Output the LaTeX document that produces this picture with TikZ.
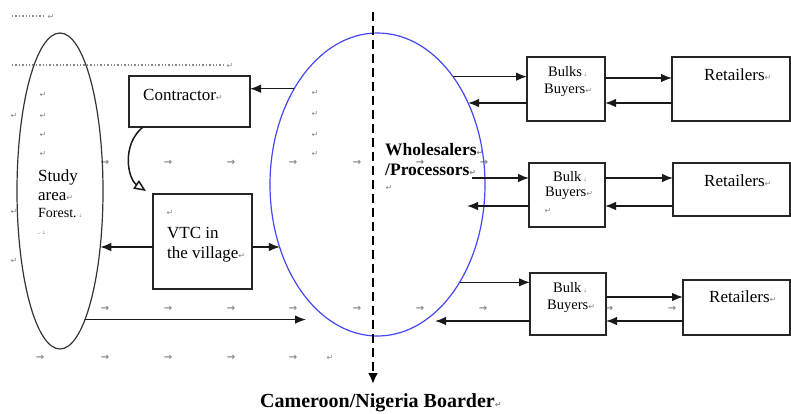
\documentclass[tikz,border=0pt]{standalone}
\usepackage{fontspec}
\setmainfont{Liberation Serif}
\newfontfamily\markfont{DejaVu Sans}
\usetikzlibrary{shapes.geometric,arrows.meta}
\definecolor{markgray}{RGB}{135,135,135}
\definecolor{ellblue}{RGB}{70,70,245}
\newcommand{\rt}{{\markfont\fontsize{8}{8}\selectfont\color{markgray}↵}}
\newcommand{\lb}{{\markfont\fontsize{5}{5}\selectfont\color{markgray}·↓}}
\tikzset{
  boxnode/.style={draw=black!85, line width=1.2pt, fill=white, rectangle, inner sep=0pt, outer sep=0pt},
  ellnode/.style={ellipse, inner sep=0pt, outer sep=0pt, line width=1.2pt},
  arr/.style={-{Latex[length=11pt,width=8.5pt]}, line width=1.3pt, black!90},
  curvarr/.style={-{Triangle[open,length=12pt,width=10pt]}, line width=1.5pt, black!90},
  lbl/.style={inner sep=0pt, anchor=west, font=\fontsize{17}{17}\selectfont},
  smalllbl/.style={inner sep=0pt, anchor=west, font=\fontsize{14.5}{14.5}\selectfont},
  boldlbl/.style={inner sep=0pt, anchor=west, font=\bfseries\fontsize{17.5}{17.5}\selectfont},
  mk/.style={inner sep=0pt, text=markgray, font=\markfont\fontsize{8}{8}\selectfont},
  tabmk/.style={inner sep=0pt, text=markgray, font=\markfont\bfseries\fontsize{10}{10}\selectfont},
  dotl/.style={markgray, line width=1.4pt, dash pattern=on 1.4pt off 2pt}
}
\begin{document}
\begin{tikzpicture}[x=1pt,y=-1pt]
\useasboundingbox (0,0) rectangle (791,413);

% ---- formatting marks (background) ----
\coordinate (d1a) at (12,16); \coordinate (d1b) at (45,16);
\coordinate (d2a) at (12,65); \coordinate (d2b) at (225,65);
\draw[dotl] (d1a) -- (d1b);
\draw[dotl] (d2a) -- (d2b);
\node[mk] (m1) at (51,17) {↵};
\node[mk] (m2) at (230,66) {↵};
\foreach \y [count=\i] in {95,116,135,154} \node[mk] (colA\i) at (43,\y) {↵};
\foreach \y [count=\i] in {116,212,261} \node[mk] (colB\i) at (14,\y) {↵};
\foreach \y [count=\i] in {93,114,135,154} \node[mk] (colC\i) at (315,\y) {↵};
\foreach \x [count=\i] in {105,168,231,293,357,420,484} \node[tabmk] (tabA\i) at (\x,163) {→};
\foreach \x [count=\i] in {105,168,231,293,357,420,483,609,672} \node[tabmk] (tabB\i) at (\x,309) {→};
\foreach \x [count=\i] in {40,105,168,231,293} \node[tabmk] (tabC\i) at (\x,358) {→};
\node[mk] (tabCend) at (330,358) {↵};

% ---- ellipses ----
\node[ellnode, draw=black!80, minimum width=86pt, minimum height=316pt] (study) at (60,191) {};
\node[ellnode, draw=ellblue, minimum width=215pt, minimum height=303pt] (whol) at (377.5,184.5) {};

% ---- boxes ----
\node[boxnode, minimum width=121pt, minimum height=51pt] (contractor) at (189.5,101.5) {};
\node[boxnode, minimum width=99pt, minimum height=95pt] (vtc) at (202.5,241.5) {};
\node[boxnode, minimum width=78pt, minimum height=64pt] (bb1) at (566,89) {};
\node[boxnode, minimum width=118pt, minimum height=64pt] (rt1) at (731,89) {};
\node[boxnode, minimum width=76pt, minimum height=64pt] (bb2) at (567,195) {};
\node[boxnode, minimum width=117pt, minimum height=53pt] (rt2) at (731.5,189.5) {};
\node[boxnode, minimum width=76pt, minimum height=62pt] (bb3) at (568,304) {};
\node[boxnode, minimum width=107pt, minimum height=55pt] (rt3) at (736.5,307.5) {};

% ---- texts ----
\node[lbl] (studytxt) at (38,177) {Study};
\node[lbl] (areatxt) at (38,197) {area\rt};
\node[inner sep=0pt, anchor=west, font=\fontsize{14}{14}\selectfont] (foresttxt) at (38,213) {Forest.\lb};
\node[mk] (forestmk) at (42,233) {.\lb};
\node[lbl] (contxt) at (143,95) {Contractor\rt};
\node[mk] (vtcmk) at (170,213) {↵};
\node[lbl] (vtctxt1) at (167,233) {VTC in};
\node[lbl] (vtctxt2) at (167,254) {the village\rt};
\node[boldlbl] (whtxt1) at (385,150) {Wholesalers\rt};
\node[boldlbl] (whtxt2) at (385,170) {/Processors\rt};
\node[mk] (whmk) at (389,188) {↵};
\node[smalllbl] (bb1t1) at (548,72) {Bulks\lb};
\node[smalllbl] (bb1t2) at (544,90) {Buyers\rt};
\node[lbl] (rt1t) at (704,75) {Retailers\rt};
\node[smalllbl] (bb2t1) at (553,177) {Bulk\lb};
\node[smalllbl] (bb2t2) at (545,193) {Buyers\rt};
\node[mk] (bb2mk) at (548,211) {↵};
\node[lbl] (rt2t) at (704,181) {Retailers\rt};
\node[smalllbl] (bb3t1) at (553,288) {Bulk\lb};
\node[smalllbl] (bb3t2) at (547,306) {Buyers\rt};
\node[lbl] (rt3t) at (709,297) {Retailers\rt};
\node[inner sep=0pt, anchor=west, font=\bfseries\fontsize{20}{20}\selectfont] (border) at (260,403) {Cameroon/Nigeria Boarder\rt};

% ---- connectors ----
\draw[arr] (whol.131.2) -- (whol.131.2 -| contractor.east);
\draw[curvarr] ([xshift=14pt]contractor.south west) .. controls +(-22,18) and +(-18,-12) .. ([xshift=-7pt,yshift=3pt]vtc.north west);
\draw[arr] ([yshift=-5.5pt]vtc.west) -- ([yshift=-5.5pt]vtc.west -| study.-54.3);
\draw[arr] ([yshift=-5.5pt]vtc.east) -- ([yshift=-5.5pt]vtc.east -| whol.-147.4);
\coordinate (bottomend) at (306,321);
\draw[arr] (study.-79.4) -- (study.-79.4 -| bottomend);

% row 1
\draw[arr] (whol.55.8) -- (whol.55.8 -| bb1.west);
\draw[arr] ([yshift=-14pt]bb1.west) -- ([yshift=-14pt]bb1.west -| whol.42);
\draw[arr] ([yshift=11pt]bb1.east) -- ([yshift=11pt]bb1.east -| rt1.west);
\draw[arr] ([yshift=-14pt]rt1.west) -- ([yshift=-14pt]rt1.west -| bb1.east);
% row 2
\coordinate (w2out) at (472,178);
\coordinate (w2in) at (467,206);
\draw[arr] (w2out) -- (w2out -| bb2.west);
\draw[arr] (bb2.west |- w2in) -- (w2in);
\draw[arr] (bb2.east |- w2out) -- (rt2.west |- w2out);
\draw[arr] (rt2.west |- w2in) -- (bb2.east |- w2in);
% row 3
\coordinate (w3in) at (435,321);
\draw[arr] (whol.-50.9) -- (whol.-50.9 -| bb3.west);
\draw[arr] (bb3.west |- w3in) -- (w3in);
\draw[arr] ([yshift=7pt]bb3.east) -- ([yshift=7pt]bb3.east -| rt3.west);
\draw[arr] (rt3.west |- w3in) -- (bb3.east |- w3in);

% ---- border line ----
\coordinate (btop) at (373,12);
\coordinate (bbot) at (373,384);
\draw[line width=2.6pt, dash pattern=on 9pt off 5pt, -{Latex[length=11pt,width=10pt]}] (btop) -- (bbot);
\end{tikzpicture}
\end{document}
